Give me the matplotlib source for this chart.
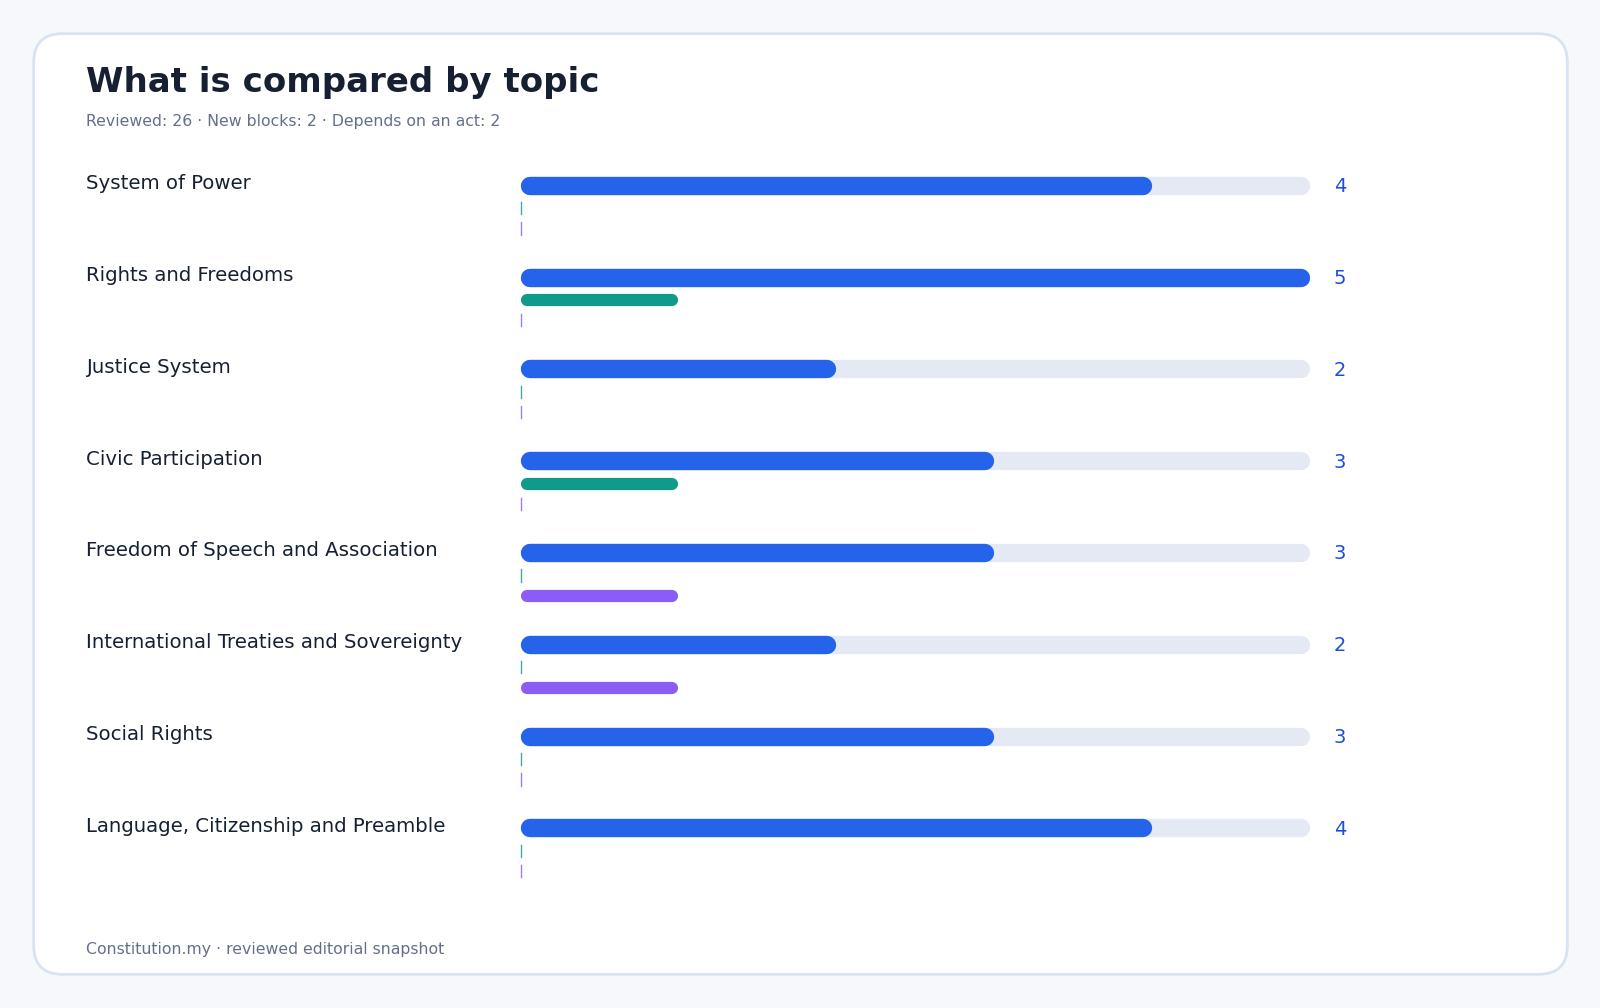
import matplotlib
matplotlib.use("Agg")
import matplotlib.pyplot as plt
from matplotlib.patches import FancyBboxPatch

topics = ["System of Power", "Rights and Freedoms", "Justice System", "Civic Participation",
          "Freedom of Speech and Association", "International Treaties and Sovereignty",
          "Social Rights", "Language, Citizenship and Preamble"]
reviewed = [4, 5, 2, 3, 3, 2, 3, 4]
new_blocks = [0, 1, 0, 1, 0, 0, 0, 0]
depends = [0, 0, 0, 0, 1, 1, 0, 0]
vmax = 5

W, H = 1568, 988
fig = plt.figure(figsize=(16, 10.08), dpi=100)
fig.patch.set_facecolor("#f6f8fc")
card = FancyBboxPatch((33 / W, 1 - 955 / H), (1536 - 33) / W, (955 - 33) / H,
                      boxstyle="round,pad=0,rounding_size=0.018", transform=fig.transFigure,
                      facecolor="white", edgecolor="#d9e3f5", linewidth=2, mutation_aspect=W / H,
                      zorder=-5)
fig.patches.append(card)

def fy(p):
    return 1 - p / H

fig.text(84 / W, fy(81), "What is compared by topic", fontsize=24.5, fontweight="bold",
         color="#172033", va="center")
fig.text(84 / W, fy(119), "Reviewed: 26 · New blocks: 2 · Depends on an act: 2", fontsize=11.3,
         color="#64708a", va="center")
fig.text(84 / W, fy(931), "Constitution.my · reviewed editorial snapshot", fontsize=11.3,
         color="#64708a", va="center")

ax = fig.add_axes([510 / W, 0, 774 / W, 1], zorder=2)
ax.patch.set_alpha(0)
ax.set_xlim(0, vmax)
ax.set_ylim(H, 0)
ax.axis("off")
px = vmax / 774.0

for i, t in enumerate(topics):
    yb = 182 + 90 * i
    yn = yb + 22
    yd = yb + 42
    fig.text(84 / W, fy(yb - 2), t, fontsize=14.2, color="#172033", va="center")
    c = 9 * px
    ax.plot([c, vmax - c], [yb, yb], color="#e4e9f3", lw=13.2, solid_capstyle="round")
    ax.plot([c, reviewed[i] - c], [yb, yb], color="#2563eb", lw=13.2, solid_capstyle="round")
    ax.text(vmax + 23 * px, yb + 1, str(reviewed[i]), fontsize=14, color="#1d4ed8",
            va="center", ha="left")
    c2 = 6 * px
    for val, y, col in ((new_blocks[i], yn, "#0f9a8a"), (depends[i], yd, "#8b5cf6")):
        if val > 0:
            ax.plot([c2, val - c2], [y, y], color=col, lw=8.8, solid_capstyle="round")
        else:
            ax.plot([0.5 * px, 0.5 * px], [y - 6, y + 6], color=col, lw=1, alpha=0.8)

fig.savefig("out.png", dpi=100, facecolor=fig.get_facecolor())
